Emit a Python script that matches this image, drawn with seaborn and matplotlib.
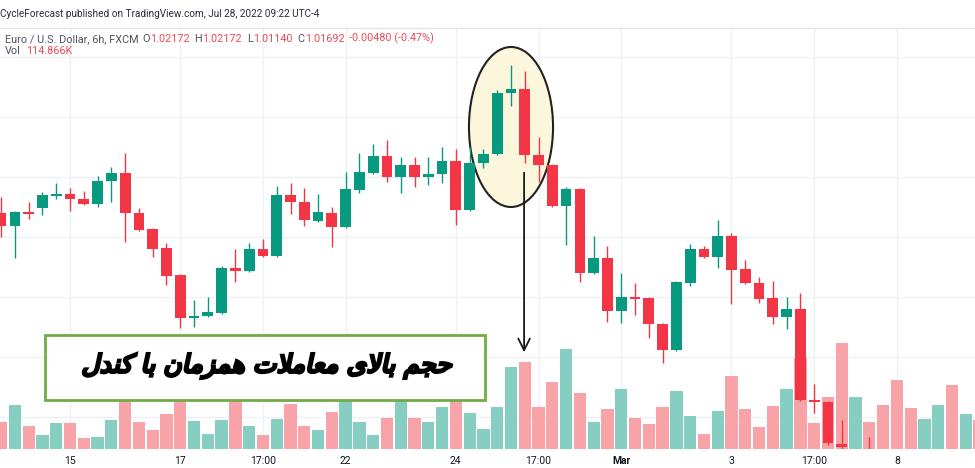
import numpy as np
import pandas as pd
import matplotlib
matplotlib.use('Agg')
import matplotlib.pyplot as plt
import matplotlib.transforms as mtransforms
from matplotlib.patches import Ellipse, Rectangle, PathPatch
from matplotlib.textpath import TextPath
from matplotlib.font_manager import FontProperties
import seaborn as sns

# EUR/USD 6h candles (price pane is cropped, no price scale shown)
opens = [1.1324, 1.1311, 1.1325, 1.1329, 1.1341, 1.1343, 1.1338, 1.1333, 1.1356, 1.1364,
         1.1324, 1.1308, 1.1289, 1.1262, 1.1219, 1.1221, 1.1224, 1.1269, 1.1266, 1.1288,
         1.1281, 1.1342, 1.1335, 1.1316, 1.1324, 1.1310, 1.1347, 1.1364, 1.1381, 1.1360,
         1.1372, 1.1360, 1.1363, 1.1376, 1.1327, 1.1374, 1.1383, 1.1444, 1.1448, 1.1382,
         1.1372, 1.1331, 1.1348, 1.1264, 1.1279, 1.1226, 1.1240, 1.1239, 1.1213, 1.1187,
         1.1254, 1.1288, 1.1280, 1.1301, 1.1268, 1.1254, 1.1239, 1.1220, 1.1228, 1.1137,
         1.1135, 1.1093, 1.1067, 1.1082, 1.1071, 1.1059, 1.1043, 1.1033, 1.1045, 1.1055,
         1.1037, 1.1047]
highs = [1.1340, 1.1326, 1.1335, 1.1345, 1.1354, 1.1349, 1.1346, 1.1361, 1.1370, 1.1384,
         1.1329, 1.1309, 1.1294, 1.1263, 1.1237, 1.1240, 1.1271, 1.1288, 1.1294, 1.1298,
         1.1351, 1.1354, 1.1349, 1.1343, 1.1330, 1.1365, 1.1384, 1.1393, 1.1397, 1.1380,
         1.1380, 1.1380, 1.1390, 1.1388, 1.1390, 1.1388, 1.1447, 1.1472, 1.1466, 1.1400,
         1.1373, 1.1350, 1.1349, 1.1301, 1.1291, 1.1264, 1.1254, 1.1240, 1.1214, 1.1256,
         1.1293, 1.1291, 1.1317, 1.1304, 1.1277, 1.1260, 1.1256, 1.1240, 1.1244, 1.1153,
         1.1136, 1.1117, 1.1085, 1.1100, 1.1079, 1.1067, 1.1051, 1.1049, 1.1059, 1.1063,
         1.1051, 1.1053]
lows = [1.1300, 1.1279, 1.1318, 1.1322, 1.1338, 1.1326, 1.1332, 1.1330, 1.1335, 1.1295,
        1.1306, 1.1280, 1.1252, 1.1209, 1.1210, 1.1220, 1.1223, 1.1255, 1.1265, 1.1280,
        1.1280, 1.1323, 1.1311, 1.1315, 1.1290, 1.1309, 1.1344, 1.1363, 1.1355, 1.1344,
        1.1350, 1.1352, 1.1354, 1.1312, 1.1326, 1.1369, 1.1382, 1.1431, 1.1374, 1.1355,
        1.1330, 1.1292, 1.1255, 1.1263, 1.1215, 1.1214, 1.1222, 1.1199, 1.1174, 1.1186,
        1.1251, 1.1279, 1.1269, 1.1233, 1.1253, 1.1234, 1.1213, 1.1208, 1.1136, 1.1124,
        1.1092, 1.1087, 1.1059, 1.1067, 1.1055, 1.1037, 1.1027, 1.1029, 1.1041, 1.1031,
        1.1032, 1.1037]
closes = [1.1311, 1.1325, 1.1323, 1.1342, 1.1343, 1.1338, 1.1333, 1.1356, 1.1364, 1.1324,
          1.1307, 1.1288, 1.1261, 1.1219, 1.1221, 1.1225, 1.1269, 1.1266, 1.1288, 1.1281,
          1.1342, 1.1335, 1.1317, 1.1325, 1.1310, 1.1348, 1.1365, 1.1381, 1.1360, 1.1372,
          1.1360, 1.1363, 1.1376, 1.1327, 1.1374, 1.1383, 1.1444, 1.1448, 1.1382, 1.1372,
          1.1331, 1.1348, 1.1264, 1.1279, 1.1226, 1.1240, 1.1238, 1.1213, 1.1187, 1.1255,
          1.1288, 1.1280, 1.1301, 1.1267, 1.1254, 1.1238, 1.1220, 1.1228, 1.1137, 1.1135,
          1.1094, 1.1090, 1.1079, 1.1071, 1.1059, 1.1043, 1.1033, 1.1045, 1.1055, 1.1037,
          1.1047, 1.1041]
# volume in K
volumes = [108, 176, 92, 56, 104, 104, 44, 48, 116, 252,
           108, 76, 140, 272, 112, 60, 116, 264, 92, 56,
           120, 180, 92, 76, 148, 232, 108, 56, 124, 252,
           124, 108, 168, 224, 144, 80, 168, 328, 348, 168,
           268, 400, 224, 108, 160, 240, 124, 100, 168, 232,
           132, 60, 152, 292, 160, 88, 172, 240, 364, 104,
           208, 424, 208, 108, 176, 276, 164, 120, 176, 256,
           140, 114.866]

tick_pos = [5, 13, 19, 25, 33, 39, 45, 53, 59, 65]
tick_labels = ['15', '17', '17:00', '22', '24', '17:00', 'Mar', '3', '17:00', '8']
price_grid = [1.1480, 1.1420, 1.1360, 1.1300, 1.1240, 1.1180, 1.1120]

note = 'حجم بالای معاملات همزمان با کندل'

UP, DOWN = '#089981', '#f23645'
VOL_COLORS = {'up': '#86cdc2', 'down': '#f7a3a8'}
RED_TXT = '#ee4a58'

# matplotlib has no arabic shaping, so pick the presentation forms by hand
FORMS = {
    'ا': (0xFE8D, 0xFE8E, None, None), 'ب': (0xFE8F, 0xFE90, 0xFE91, 0xFE92),
    'ت': (0xFE95, 0xFE96, 0xFE97, 0xFE98), 'ج': (0xFE9D, 0xFE9E, 0xFE9F, 0xFEA0),
    'ح': (0xFEA1, 0xFEA2, 0xFEA3, 0xFEA4), 'د': (0xFEA9, 0xFEAA, None, None),
    'ز': (0xFEAF, 0xFEB0, None, None), 'ع': (0xFEC9, 0xFECA, 0xFECB, 0xFECC),
    'ک': (0xFED9, 0xFEDA, 0xFEDB, 0xFEDC), 'ل': (0xFEDD, 0xFEDE, 0xFEDF, 0xFEE0),
    'م': (0xFEE1, 0xFEE2, 0xFEE3, 0xFEE4), 'ن': (0xFEE5, 0xFEE6, 0xFEE7, 0xFEE8),
    'ه': (0xFEE9, 0xFEEA, 0xFEEB, 0xFEEC), 'ی': (0xFEEF, 0xFEF0, 0xFEF3, 0xFEF4),
    'لا': (0xFEFB, 0xFEFC, None, None),
}


def shape_word(word):
    letters = []
    i = 0
    while i < len(word):
        if word[i] == 'ل' and word[i + 1:i + 2] == 'ا':
            letters.append('لا')
            i += 2
        else:
            letters.append(word[i])
            i += 1
    out = ''
    for k, ch in enumerate(letters):
        f = FORMS[ch]
        prev_joins = k > 0 and FORMS[letters[k - 1]][2] is not None
        next_joins = k < len(letters) - 1 and f[2] is not None
        if prev_joins:
            out += chr(f[3] if next_joins else f[1])
        else:
            out += chr(f[2] if next_joins else f[0])
    return out


def shape_rtl(text):
    return ' '.join(shape_word(w) for w in text.split())[::-1]


df = pd.DataFrame({'idx': np.arange(len(opens)), 'open': opens, 'high': highs,
                   'low': lows, 'close': closes, 'volume': volumes})
df['dir'] = np.where(df['close'] >= df['open'], 'up', 'down')
candle_colors = np.where(df['dir'] == 'up', UP, DOWN)

sns.set_theme(style='white')
plt.rcParams['font.family'] = ['Roboto', 'DejaVu Sans']

fig = plt.figure(figsize=(9.75, 4.68), dpi=100)
ax_vol = fig.add_axes([0, 19 / 468, 1, 421 / 468])

sns.barplot(data=df, x='idx', y='volume', hue='dir', palette=VOL_COLORS, native_scale=True,
            dodge=False, width=0.89, saturation=1, linewidth=0, errorbar=None,
            legend=False, ax=ax_vol)
ax_vol.set_ylim(0, 421 * 4)
ax_vol.set_xlim(-0.08, 70.67)
ax_vol.set_xticks(tick_pos, tick_labels)
ax_vol.set_yticks([])
ax_vol.set_xlabel('')
ax_vol.set_ylabel('')
ax_vol.tick_params(axis='x', length=0, pad=5, labelsize=7.5, labelcolor='#131722')
for lab in ax_vol.get_xticklabels():
    if lab.get_text() == 'Mar':
        lab.set_fontweight('bold')
ax_vol.set_axisbelow(True)
ax_vol.grid(axis='x', color='#eef0f4', lw=1)

ax_price = ax_vol.twinx()
ax_price.set_ylim(1.1088, 1.1509)
ax_price.set_yticks([])

# horizontal price grid, drawn on the volume axes so it stays behind the bars
blend = mtransforms.blended_transform_factory(ax_vol.transAxes, ax_price.transData)
ax_vol.hlines(price_grid, 0, 1, transform=blend, colors='#eef0f4', lw=1, zorder=0)

for a in (ax_vol, ax_price):
    for s in a.spines.values():
        s.set_visible(False)
ax_vol.spines['top'].set_visible(True)
ax_vol.spines['top'].set_color('#e0e3eb')
ax_vol.spines['top'].set_linewidth(1)

# highlight around the high-volume candles
ax_price.add_patch(Ellipse((37, 1.1410), 6.1, 0.0160, facecolor='#fcf7dc',
                           edgecolor='#222222', lw=1.5, zorder=1))

ax_price.vlines(df['idx'], df['low'], df['high'], colors=candle_colors, lw=1, zorder=3)
body = np.maximum((df['close'] - df['open']).abs(), 0.00015)
ax_price.bar(df['idx'], body, bottom=np.minimum(df['open'], df['close']), width=0.78,
             color=candle_colors, linewidth=0, zorder=4)

ax_price.annotate('', xy=(37.95, 1.1182), xytext=(37.95, 1.1367),
                  arrowprops=dict(arrowstyle='->,head_length=0.7,head_width=0.35',
                                  lw=1.3, color='#1a1a1a'), zorder=5)

ax_price.add_patch(Rectangle((45 / 975, 1 - 400 / 468), 440 / 975, 65 / 468,
                             transform=fig.transFigure, facecolor='white',
                             edgecolor='#70ad47', lw=2, zorder=6, clip_on=False))

# persian note: only the regular DejaVu face has the arabic forms, so slant and
# thicken the glyph outlines by hand to get the bold italic look
tp = TextPath((0, 0), shape_rtl(note), size=20, prop=FontProperties(family='DejaVu Sans'))
ext = tp.get_extents()
k = 367 / ext.width
path_tr = (mtransforms.Affine2D()
           .translate(-(ext.x0 + ext.x1) / 2, -(ext.y0 + ext.y1) / 2)
           .scale(k)
           .skew_deg(12, 0)
           .translate(268, 468 - 366)
           .scale(1 / 100)
           + fig.dpi_scale_trans)
fig.add_artist(PathPatch(tp, transform=path_tr, facecolor='black', edgecolor='black',
                         lw=2.0, zorder=7))

# header lines
fig.text(0.0, 1 - 14 / 468, 'CycleForecast published on TradingView.com, Jul 28, 2022 09:22 UTC-4',
         fontsize=7.2, color='#2a2e39', va='center')


def chain(parts, x, y, fs=7.8):
    prev = fig.text(x, y, parts[0][0], color=parts[0][1], fontsize=fs, va='bottom')
    for s, col, gap in parts[1:]:
        prev = ax_price.annotate(s, xy=(1, 0), xycoords=prev, xytext=(gap, 0),
                                 textcoords='offset points', color=col, fontsize=fs,
                                 va='bottom', annotation_clip=False)


GREY = '#50535e'
chain([('Euro / U.S. Dollar, 6h, FXCM', GREY, 0), ('O', GREY, 2.5), ('1.02172', RED_TXT, 0.3),
       ('H', GREY, 3.5), ('1.02172', RED_TXT, 0.3), ('L', GREY, 3.5), ('1.01140', RED_TXT, 0.3),
       ('C', GREY, 3.5), ('1.01692', RED_TXT, 0.3), ('-0.00480 (-0.47%)', RED_TXT, 3.5)],
      5 / 975, 1 - 44 / 468)
chain([('Vol', GREY, 0), ('114.866K', RED_TXT, 4)], 5 / 975, 1 - 56 / 468)

fig.savefig('out.png', dpi=100)
